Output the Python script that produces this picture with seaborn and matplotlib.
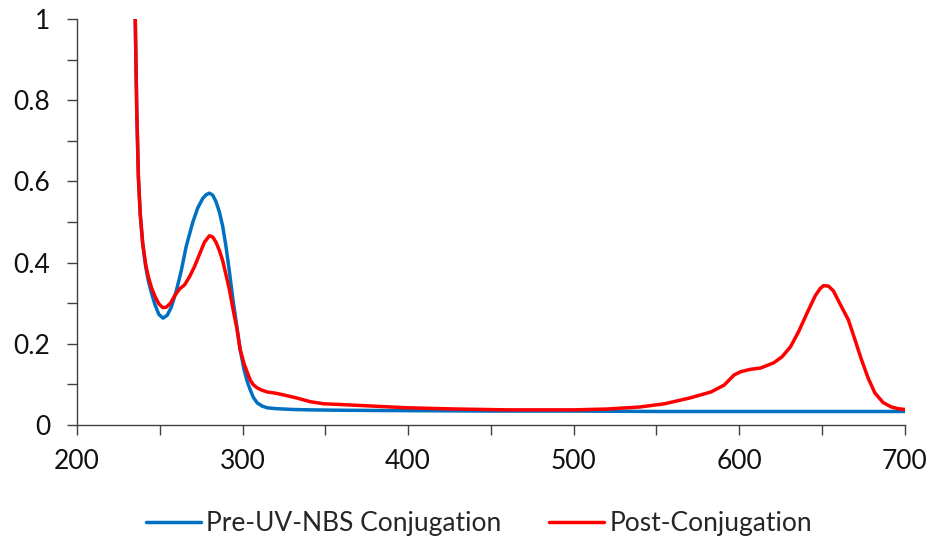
import numpy as np
import pandas as pd
import matplotlib
matplotlib.use("Agg")
import matplotlib.pyplot as plt
import seaborn as sns

# Absorbance spectra (wavelength in nm)
pre_wl = [235.2, 236.1, 237.1, 238.2, 239.7, 241.5, 243.1, 245, 247.2, 249.5, 252, 254.5,
          257, 260, 263, 266, 270, 273, 276, 278, 280, 282, 284, 286, 288, 290, 292, 294.5,
          296.5, 298.6, 301, 303, 304.7, 306.5, 308.9, 312, 315, 320, 330, 340, 360, 400,
          450, 500, 550, 600, 650, 700]
pre_abs = [1.0, 0.776, 0.611, 0.52, 0.445, 0.39, 0.355, 0.325, 0.295, 0.272, 0.263, 0.27,
           0.29, 0.33, 0.38, 0.44, 0.50, 0.535, 0.558, 0.567, 0.571, 0.566, 0.55, 0.525, 0.49,
           0.44, 0.38, 0.30, 0.245, 0.185, 0.135, 0.105, 0.086, 0.068, 0.054, 0.046, 0.042,
           0.04, 0.038, 0.037, 0.036, 0.035, 0.034, 0.034, 0.033, 0.033, 0.033, 0.033]

post_wl = [235.2, 236.1, 237.1, 238.2, 239.7, 241.5, 243.1, 245, 247.2, 249.5, 251.8, 254,
           256.5, 259, 262, 265, 268, 271, 274, 277, 280, 282, 284, 286, 288, 290, 292, 294.5,
           296.5, 298.6, 301, 303, 304.7, 306.5, 308.9, 312, 315, 320, 324.6, 333, 341, 349,
           365, 385, 400, 430, 460, 500, 520, 540, 555, 570, 583, 591, 597, 601, 607, 613, 621,
           626, 631, 636, 641, 646, 649, 651, 654, 657, 662, 666, 670, 674, 678, 682, 687, 692,
           696, 700]
post_abs = [1.0, 0.776, 0.611, 0.52, 0.448, 0.395, 0.365, 0.338, 0.316, 0.298, 0.289, 0.29,
            0.30, 0.318, 0.335, 0.345, 0.365, 0.39, 0.42, 0.45, 0.466, 0.463, 0.45, 0.43, 0.405,
            0.37, 0.335, 0.28, 0.24, 0.185, 0.15, 0.128, 0.11, 0.099, 0.091, 0.085, 0.081,
            0.078, 0.074, 0.066, 0.057, 0.052, 0.049, 0.045, 0.042, 0.039, 0.037, 0.037,
            0.039, 0.044, 0.052, 0.066, 0.081, 0.098, 0.123, 0.131, 0.137, 0.140, 0.153,
            0.168, 0.192, 0.23, 0.275, 0.318, 0.336, 0.343, 0.342, 0.33, 0.29, 0.259, 0.21,
            0.16, 0.115, 0.079, 0.055, 0.044, 0.04, 0.038]

series_names = ["Pre-UV-NBS Conjugation", "Post-Conjugation"]
series_colors = ["#0070C0", "#FF0000"]

x_major = [200, 300, 400, 500, 600, 700]
x_minor = [250, 350, 450, 550, 650]
y_major = [0, 0.2, 0.4, 0.6, 0.8, 1]
y_minor = [0.1, 0.3, 0.5, 0.7, 0.9]
y_labels = ["0", "0.2", "0.4", "0.6", "0.8", "1"]

df = pd.concat([
    pd.DataFrame({"wl": pre_wl, "abs": pre_abs, "series": series_names[0]}),
    pd.DataFrame({"wl": post_wl, "abs": post_abs, "series": series_names[1]}),
])

sns.set_style("ticks")
plt.rcParams["font.family"] = ["Lato", "DejaVu Sans"]

fig = plt.figure(figsize=(9.32, 5.44), dpi=100)
ax = fig.add_axes([0.0826, 0.219, 0.888, 0.746])

sns.lineplot(data=df, x="wl", y="abs", hue="series", hue_order=series_names,
             palette=series_colors, linewidth=2.5, sort=False, estimator=None,
             ax=ax, legend=False)
for line in ax.lines:
    line.set_solid_joinstyle("round")
    line.set_solid_capstyle("round")

ax.set_xlim(200, 700)
ax.set_ylim(0, 1)
ax.set_xticks(x_major)
ax.set_xticks(x_minor, minor=True)
ax.set_yticks(y_major)
ax.set_yticks(y_minor, minor=True)
ax.set_yticklabels(y_labels)
ax.set_xlabel("")
ax.set_ylabel("")

spine_color = "#404040"
for side in ["top", "right"]:
    ax.spines[side].set_visible(False)
for side in ["left", "bottom"]:
    ax.spines[side].set_color(spine_color)
    ax.spines[side].set_linewidth(1.0)

ax.tick_params(axis="both", which="both", direction="out", length=7.2, width=1.0,
               color=spine_color, labelsize=19, labelcolor="#111111")
ax.tick_params(axis="x", which="major", pad=10.5)
ax.tick_params(axis="y", which="major", pad=12)

handles = [plt.Line2D([], [], color=c, linewidth=2.5) for c in series_colors]
fig.legend(handles, series_names, loc="center", bbox_to_anchor=(0.514, 0.037), ncol=2,
           frameon=False, fontsize=19, handlelength=2.08, handletextpad=0.2,
           columnspacing=1.8)

fig.savefig("out.png", dpi=100)
